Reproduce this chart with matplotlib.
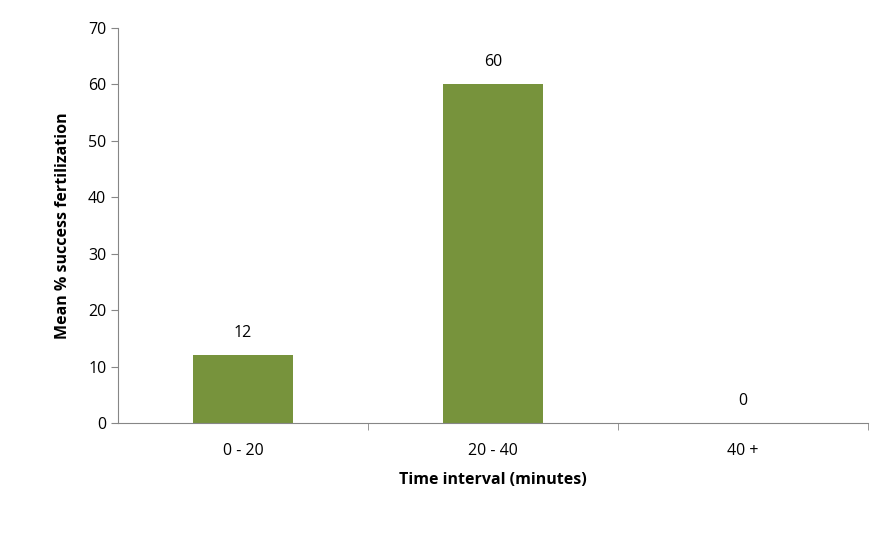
import matplotlib
matplotlib.use("Agg")
import matplotlib.pyplot as plt
import numpy as np

categories = ["0 - 20", "20 - 40", "40 +"]
values = [12, 60, 0]

plt.rcParams['font.family'] = ['Open Sans', 'DejaVu Sans']

fig = plt.figure(figsize=(8.95, 5.37), dpi=100)
ax = fig.add_axes([0.132, 0.212, 0.838, 0.736])

x = np.arange(len(categories))
ax.bar(x, values, width=0.4, color="#77933C")
for xi, v in zip(x, values):
    ax.text(xi, v + 2.5, str(v), ha="center", va="bottom", fontsize=11.5)

ax.set_xlim(-0.5, len(categories) - 0.5)
ax.set_ylim(0, 70)
ax.set_yticks(range(0, 71, 10))
ax.set_xticks(x)
ax.set_xticklabels(categories)
ax.set_xticks(np.arange(0.5, len(categories), 1), minor=True)
ax.tick_params(axis="x", which="major", length=0, pad=14, labelsize=11.5)
ax.tick_params(axis="x", which="minor", length=5, color="#868686")
ax.tick_params(axis="y", length=5, color="#868686", labelsize=11.5)

for s in ["top", "right"]:
    ax.spines[s].set_visible(False)
for s in ["left", "bottom"]:
    ax.spines[s].set_color("#868686")

ax.set_xlabel("Time interval (minutes)", fontsize=11.5, fontweight="bold", labelpad=10)
ax.set_ylabel("Mean % success fertilization", fontsize=11.5, fontweight="bold", labelpad=12)

fig.savefig("out.png", dpi=100)
